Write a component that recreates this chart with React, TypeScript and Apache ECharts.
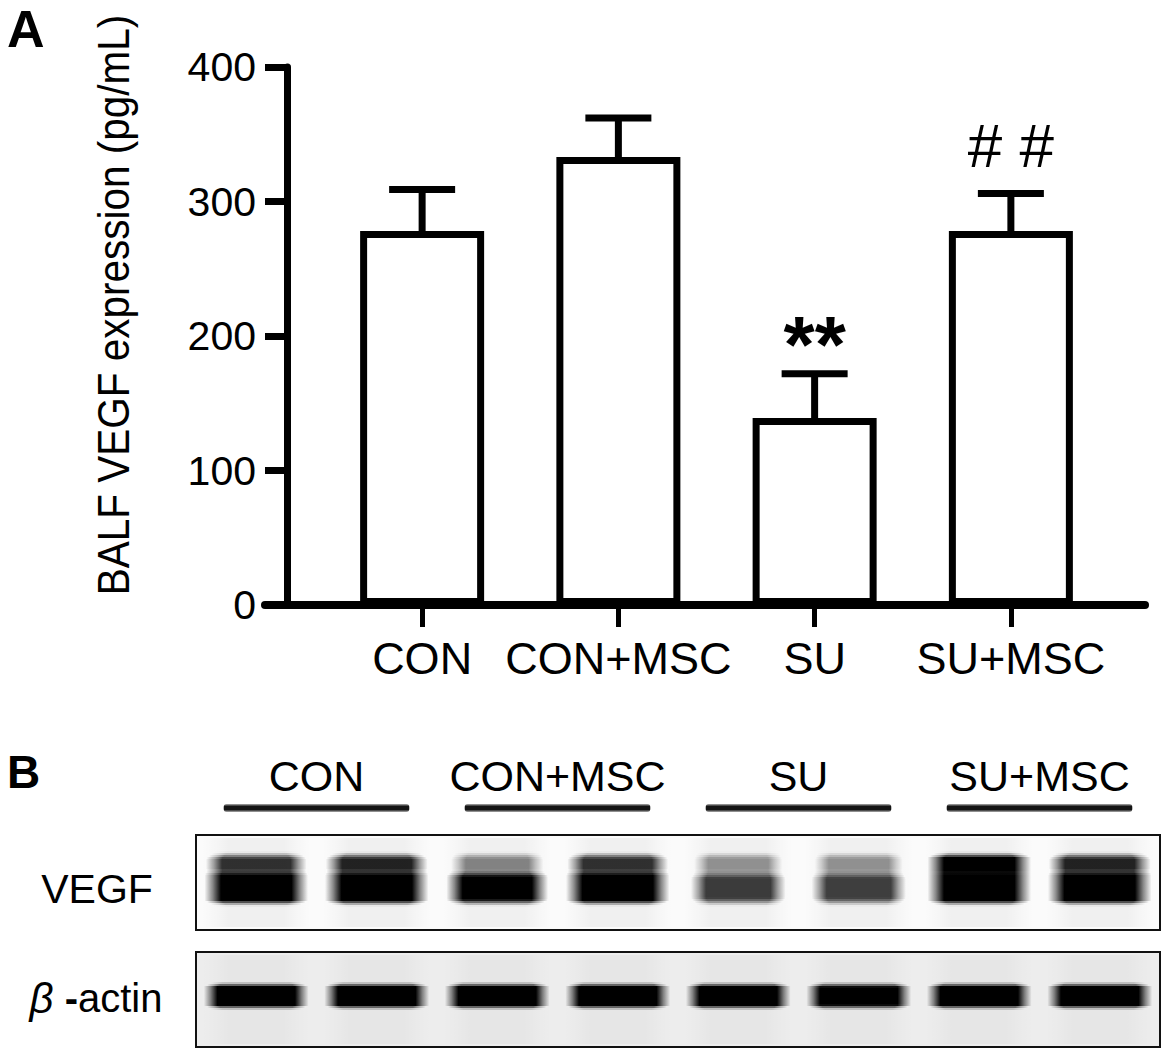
import React, { useEffect, useRef } from "react";
import * as echarts from "echarts";

// ---------- data ----------
const groups = ["CON", "CON+MSC", "SU", "SU+MSC"];
const means = [278, 333, 139, 278];
const errors = [31, 29, 33, 28];
const marks = ["", "", "**", "# #"];
const yMin = 0;
const yMax = 400;
const yStep = 100;

// western blot lanes (2 per group) and relative band darkness
const lanes = ["CON 1", "CON 2", "CON+MSC 1", "CON+MSC 2", "SU 1", "SU 2", "SU+MSC 1", "SU+MSC 2"];
const vegfLower = [1.0, 1.0, 0.85, 1.0, 0.56, 0.55, 1.0, 1.0];
const vegfUpper = [0.7, 0.75, 0.4, 0.7, 0.35, 0.35, 1.0, 0.75];
const actin = [1.0, 1.0, 1.0, 1.0, 1.0, 0.95, 1.0, 1.0];

// ---------- styles ----------
const FONT = "'Liberation Sans', Arial, Helvetica, sans-serif";
const BLACK = "#000";
const markStyle: Record<string, { fontSize: number; fontWeight: string; dy: number }> = {
  "**": { fontSize: 80, fontWeight: "bold", dy: -29 },
  "# #": { fontSize: 62, fontWeight: "normal", dy: -48 },
};

function plateau(y: number, c: number, h: number, s: number) {
  const d = Math.abs(y - c);
  if (d <= h) return 1;
  if (d >= h + s) return 0;
  const t = 1 - (d - h) / s;
  return t * t * (3 - 2 * t);
}

function hGrad(a: number, edge: number) {
  const al = Math.max(0, Math.min(1, +a.toFixed(3)));
  const mid = `rgba(0,0,0,${al})`;
  const half = `rgba(0,0,0,${+(al * 0.45).toFixed(3)})`;
  return {
    type: "linear",
    x: 0,
    y: 0,
    x2: 1,
    y2: 0,
    colorStops: [
      { offset: 0, color: "rgba(0,0,0,0)" },
      { offset: edge * 0.5, color: half },
      { offset: edge, color: mid },
      { offset: 1 - edge, color: mid },
      { offset: 1 - edge * 0.5, color: half },
      { offset: 1, color: "rgba(0,0,0,0)" },
    ],
  };
}

function buildOption() {
  return {
    animation: false,
    backgroundColor: "#fff",
    textStyle: { fontFamily: FONT, color: BLACK },
    grid: [
      { left: 324, right: 58, top: 67, height: 538 },
      { left: 265, right: 22, top: 67, height: 538 },
      {
        left: 196, right: 7, top: 835, height: 95, show: true,
        borderColor: "#111", borderWidth: 2, backgroundColor: "#fbfbfb",
      },
      {
        left: 196, right: 7, top: 952, height: 95, show: true,
        borderColor: "#111", borderWidth: 2, backgroundColor: "#ededed",
      },
    ],
    xAxis: [
      {
        type: "category", gridIndex: 0, data: groups,
        axisLine: { show: false },
        axisTick: { show: true, alignWithLabel: true, length: 22, lineStyle: { color: BLACK, width: 5 } },
        axisLabel: { interval: 0, fontSize: 45, color: BLACK, margin: 31, fontFamily: FONT },
        splitLine: { show: false },
      },
      {
        type: "value", gridIndex: 1, min: 0, max: 1,
        axisLine: { show: true, onZero: true, lineStyle: { color: BLACK, width: 8 } },
        axisTick: { show: false }, axisLabel: { show: false }, splitLine: { show: false },
      },
      { type: "category", gridIndex: 2, data: lanes, show: false },
      {
        type: "category", gridIndex: 2, data: groups, position: "top",
        axisLine: { show: false }, axisTick: { show: false },
        axisLabel: { interval: 0, fontSize: 43, color: BLACK, margin: 38, fontFamily: FONT },
        splitLine: { show: false },
      },
      { type: "category", gridIndex: 3, data: lanes, show: false },
    ],
    yAxis: [
      {
        type: "value", gridIndex: 0, min: yMin, max: yMax, interval: yStep, offset: 37,
        axisLine: { show: true, lineStyle: { color: BLACK, width: 7 } },
        axisTick: { show: true, length: 22, lineStyle: { color: BLACK, width: 7 } },
        axisLabel: { fontSize: 41, color: BLACK, margin: 31, fontFamily: FONT },
        splitLine: { show: false },
      },
      { type: "value", gridIndex: 1, min: yMin, max: yMax, show: false },
      { type: "value", gridIndex: 2, min: 0, max: 1, show: false },
      { type: "value", gridIndex: 3, min: 0, max: 1, show: false },
    ],
    series: [
      {
        type: "bar", xAxisIndex: 0, yAxisIndex: 0, data: means, barWidth: 124,
        itemStyle: { color: "#fff", borderColor: BLACK, borderWidth: 7 },
        z: 2,
      },
      {
        type: "custom", xAxisIndex: 0, yAxisIndex: 0, z: 4,
        data: means.map((m, i) => [i, m, errors[i]]),
        renderItem: (params: any, api: any) => {
          const i = api.value(0);
          const m = api.value(1);
          const e = api.value(2);
          const base = api.coord([i, m]);
          const top = api.coord([i, m + e]);
          const half = 33;
          const kids: any[] = [
            { type: "line", shape: { x1: base[0], y1: base[1], x2: top[0], y2: top[1] }, style: { stroke: BLACK, lineWidth: 7 } },
            { type: "line", shape: { x1: top[0] - half, y1: top[1], x2: top[0] + half, y2: top[1] }, style: { stroke: BLACK, lineWidth: 7 } },
          ];
          const mk = marks[i];
          if (mk) {
            const st = markStyle[mk];
            kids.push({
              type: "text", x: top[0], y: top[1] + st.dy,
              style: {
                text: mk, fill: BLACK, fontFamily: FONT, fontSize: st.fontSize, fontWeight: st.fontWeight,
                align: "center", verticalAlign: "middle",
              },
            });
          }
          return { type: "group", children: kids };
        },
      },
      {
        type: "custom", xAxisIndex: 2, yAxisIndex: 2, z: 3,
        data: lanes.map((_, i) => [i, vegfLower[i], vegfUpper[i]]),
        renderItem: (params: any, api: any) => {
          const i = api.value(0);
          const lo = api.value(1);
          const up = api.value(2);
          const cs = params.coordSys;
          const T = Math.round(cs.y);
          const cx = api.coord([i, 0])[0];
          const bw = api.size([1, 0])[0];
          const kids: any[] = [
            { type: "rect", silent: true, shape: { x: cx - bw * 0.45, y: T + 3, width: bw * 0.9, height: cs.height - 6 }, style: { fill: hGrad(0.045, 0.25) } },
          ];
          const wMax = bw * (0.76 + 0.1 * Math.max(lo, up));
          for (let y = T + 8; y < T + 88; y += 2) {
            const raw = lo * plateau(y + 1, T + 53, 9, 10) + 0.85 * up * plateau(y + 1, T + 29, 4, 9);
            const a = Math.min(1, 1.35 * raw);
            if (a < 0.012) continue;
            const w = wMax * (0.82 + 0.18 * Math.min(1, raw / 0.7));
            kids.push({ type: "rect", silent: true, shape: { x: cx - w / 2, y, width: w, height: 2 }, style: { fill: hGrad(a, 0.16) } });
          }
          return { type: "group", children: kids };
        },
      },
      {
        type: "custom", xAxisIndex: 3, yAxisIndex: 2, z: 3,
        data: groups.map((_, i) => [i, 0]),
        renderItem: (params: any, api: any) => {
          const i = api.value(0);
          const cs = params.coordSys;
          const cx = api.coord([i, 0])[0];
          const gw = api.size([1, 0])[0];
          const w = gw * 0.77;
          return {
            type: "rect",
            shape: { x: cx - w / 2, y: cs.y - 31, width: w, height: 8, r: 3 },
            style: {
              fill: {
                type: "linear", x: 0, y: 0, x2: 0, y2: 1,
                colorStops: [
                  { offset: 0, color: "rgba(0,0,0,0.3)" },
                  { offset: 0.3, color: "rgba(20,20,20,1)" },
                  { offset: 0.7, color: "rgba(20,20,20,1)" },
                  { offset: 1, color: "rgba(0,0,0,0.3)" },
                ],
              },
            },
          };
        },
      },
      {
        type: "custom", xAxisIndex: 4, yAxisIndex: 3, z: 3,
        data: lanes.map((_, i) => [i, actin[i]]),
        renderItem: (params: any, api: any) => {
          const i = api.value(0);
          const v = api.value(1);
          const cs = params.coordSys;
          const T = Math.round(cs.y);
          const cx = api.coord([i, 0])[0];
          const bw = api.size([1, 0])[0];
          const kids: any[] = [
            { type: "rect", silent: true, shape: { x: cx - bw * 0.45, y: T + 3, width: bw * 0.9, height: cs.height - 6 }, style: { fill: hGrad(0.03, 0.25) } },
          ];
          const wMax = bw * 0.87;
          for (let y = T + 18; y < T + 72; y += 2) {
            const raw = v * plateau(y + 1, T + 44, 6, 9);
            const a = Math.min(1, 1.35 * raw);
            if (a < 0.012) continue;
            const w = wMax * (0.84 + 0.16 * Math.min(1, raw / 0.7));
            kids.push({ type: "rect", silent: true, shape: { x: cx - w / 2, y, width: w, height: 2 }, style: { fill: hGrad(a, 0.13) } });
          }
          return { type: "group", children: kids };
        },
      },
    ],
    graphic: [
      {
        type: "text", x: 7, y: 29,
        style: { text: "A", fill: BLACK, fontFamily: FONT, fontSize: 52, fontWeight: "bold", align: "left", verticalAlign: "middle" },
      },
      {
        type: "text", x: 7, y: 772,
        style: { text: "B", fill: BLACK, fontFamily: FONT, fontSize: 46, fontWeight: "bold", align: "left", verticalAlign: "middle" },
      },
      {
        type: "text", x: 113, y: 305, rotation: Math.PI / 2, scaleX: 0.9,
        style: { text: "BALF VEGF expression (pg/mL)", fill: BLACK, fontFamily: FONT, fontSize: 45, align: "center", verticalAlign: "middle" },
      },
      {
        type: "text", x: 97, y: 889,
        style: { text: "VEGF", fill: BLACK, fontFamily: FONT, fontSize: 41, align: "center", verticalAlign: "middle" },
      },
      {
        type: "text", x: 96, y: 998,
        style: {
          text: "{i|β} {d|-}actin", fill: BLACK, fontFamily: FONT, fontSize: 40, align: "center", verticalAlign: "middle",
          rich: {
            i: { fontStyle: "italic", fontSize: 42, fontFamily: FONT, fill: BLACK },
            d: { fontWeight: "bold", fontSize: 40, fontFamily: FONT, fill: BLACK },
          },
        },
      },
    ],
  };
}

export default function App() {
  const ref = useRef<HTMLDivElement>(null);
  useEffect(() => {
    if (!ref.current) return;
    const chart = echarts.init(ref.current, null, { renderer: "svg" });
    chart.setOption(buildOption() as any);
    return () => chart.dispose();
  }, []);
  return (
    <div
      ref={ref}
      style={{ position: "absolute", left: 0, top: 0, width: 1167, height: 1054, background: "#fff" }}
    />
  );
}
